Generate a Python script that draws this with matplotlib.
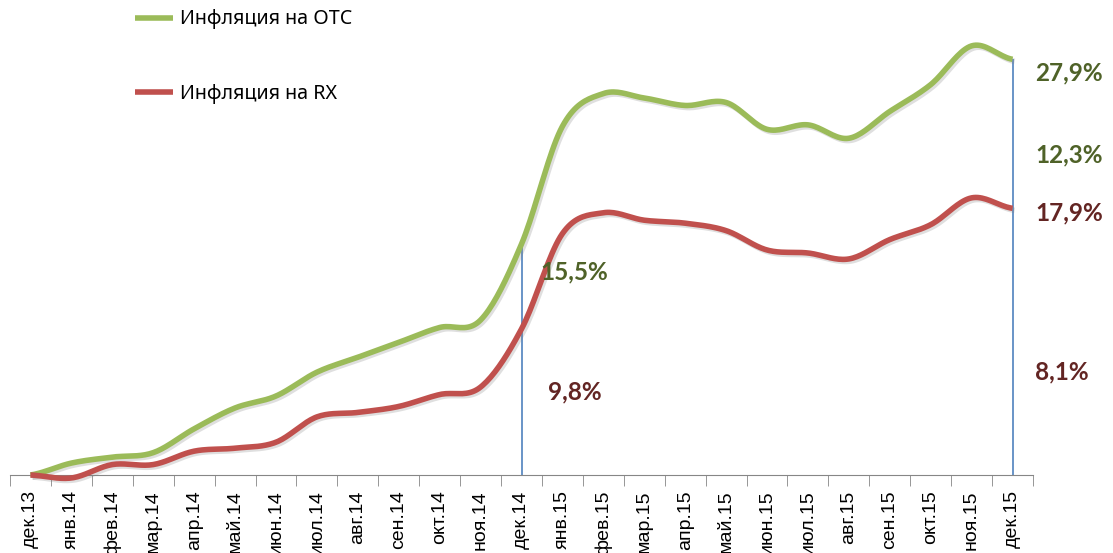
import numpy as np
import matplotlib
matplotlib.use('Agg')
import matplotlib.pyplot as plt
import matplotlib.patheffects as pe

# Month labels
months = ['дек.13', 'янв.14', 'фев.14', 'мар.14', 'апр.14', 'май.14', 'июн.14',
          'июл.14', 'авг.14', 'сен.14', 'окт.14', 'ноя.14', 'дек.14',
          'янв.15', 'фев.15', 'мар.15', 'апр.15', 'май.15', 'июн.15',
          'июл.15', 'авг.15', 'сен.15', 'окт.15', 'ноя.15', 'дек.15']

# Cumulative inflation, %
otc = [0.0, 0.8, 1.2, 1.5, 3.1, 4.5, 5.3, 6.9, 7.9, 8.9, 9.9, 10.4, 15.5,
       23.4, 25.6, 25.3, 24.8, 25.0, 23.2, 23.5, 22.6, 24.4, 26.2, 28.8, 27.9]
rx = [0.0, -0.2, 0.7, 0.7, 1.6, 1.8, 2.2, 3.9, 4.2, 4.6, 5.4, 5.9, 9.8,
      16.2, 17.6, 17.1, 16.9, 16.4, 15.1, 14.9, 14.5, 15.8, 16.8, 18.6, 17.9]

# Labels for the marked months
otc_labels = ['15,5%', '27,9%', '12,3%']
rx_labels = ['9,8%', '17,9%', '8,1%']

green = '#9BBB59'
red = '#C0504D'
dark_green = '#4F6228'
dark_red = '#632523'


def smooth(y, n=20):
    # Catmull-Rom curve through the points, like Excel's smoothed line
    y = np.asarray(y, dtype=float)
    p = np.concatenate([[y[0]], y, [y[-1]]])
    xs, ys = [], []
    for i in range(len(y) - 1):
        p0, p1, p2, p3 = p[i], p[i + 1], p[i + 2], p[i + 3]
        t = np.linspace(0, 1, n, endpoint=False)
        v = 0.5 * (2 * p1 + (-p0 + p2) * t + (2 * p0 - 5 * p1 + 4 * p2 - p3) * t ** 2
                   + (-p0 + 3 * p1 - 3 * p2 + p3) * t ** 3)
        xs.append(i + t)
        ys.append(v)
    xs.append([len(y) - 1])
    ys.append([y[-1]])
    return np.concatenate(xs), np.concatenate(ys)


fig = plt.figure(figsize=(11.13, 5.53), dpi=100)
ax = fig.add_axes([10 / 1113, 78 / 553, 1023 / 1113, 447 / 553])

shadow = [pe.SimpleLineShadow(offset=(1.5, -1.5), alpha=0.25, shadow_color='gray'), pe.Normal()]

x = np.arange(len(months))
xs, ys = smooth(otc)
ax.plot(xs, ys, color=green, lw=4, solid_capstyle='butt', label='Инфляция на OTC',
        path_effects=shadow, clip_on=False, zorder=3)
xs, ys = smooth(rx)
ax.plot(xs, ys, color=red, lw=4, solid_capstyle='butt', label='Инфляция на RX',
        path_effects=shadow, clip_on=False, zorder=3)

# vertical markers at дек.14 and дек.15
for i in [12, 24]:
    ax.vlines(x[i], 0, otc[i], color='#4F81BD', lw=1.2, zorder=2)

lab_font = dict(family=['Lato', 'DejaVu Sans'], fontsize=17.5, fontweight='bold')
ax.text(12.46, 13.6, otc_labels[0], color=dark_green, va='center', ha='left', **lab_font)
ax.text(12.65, 5.6, rx_labels[0], color=dark_red, va='center', ha='left', **lab_font)
ax.text(24.55, 27.0, otc_labels[1], color=dark_green, va='center', ha='left', clip_on=False, **lab_font)
ax.text(24.55, 21.5, otc_labels[2], color=dark_green, va='center', ha='left', clip_on=False, **lab_font)
ax.text(24.55, 17.6, rx_labels[1], color=dark_red, va='center', ha='left', clip_on=False, **lab_font)
ax.text(24.55, 6.9, rx_labels[2], color=dark_red, va='center', ha='left', clip_on=False, **lab_font)

ax.set_xlim(-0.5, len(months) - 0.5)
ax.set_ylim(0, 30)
for s in ['left', 'right', 'top']:
    ax.spines[s].set_visible(False)
ax.spines['bottom'].set_color('#868686')
ax.set_yticks([])

ax.set_xticks(x)
ax.set_xticklabels(months, rotation=90, fontsize=14, family='Liberation Sans', va='top')
ax.tick_params(axis='x', which='major', length=0, pad=11)
ax.set_xticks(np.arange(-0.5, len(months), 1), minor=True)
ax.tick_params(axis='x', which='minor', length=8, color='#868686')

leg = fig.legend(loc='upper left', bbox_to_anchor=(117 / 1113, 1.015), frameon=False,
                 prop={'family': 'Noto Sans', 'size': 14.2}, labelspacing=2.75,
                 handlelength=1.95, handletextpad=0.35)
for line in leg.get_lines():
    line.set_linewidth(4)
    line.set_path_effects([])

fig.savefig('out.png', dpi=100)
